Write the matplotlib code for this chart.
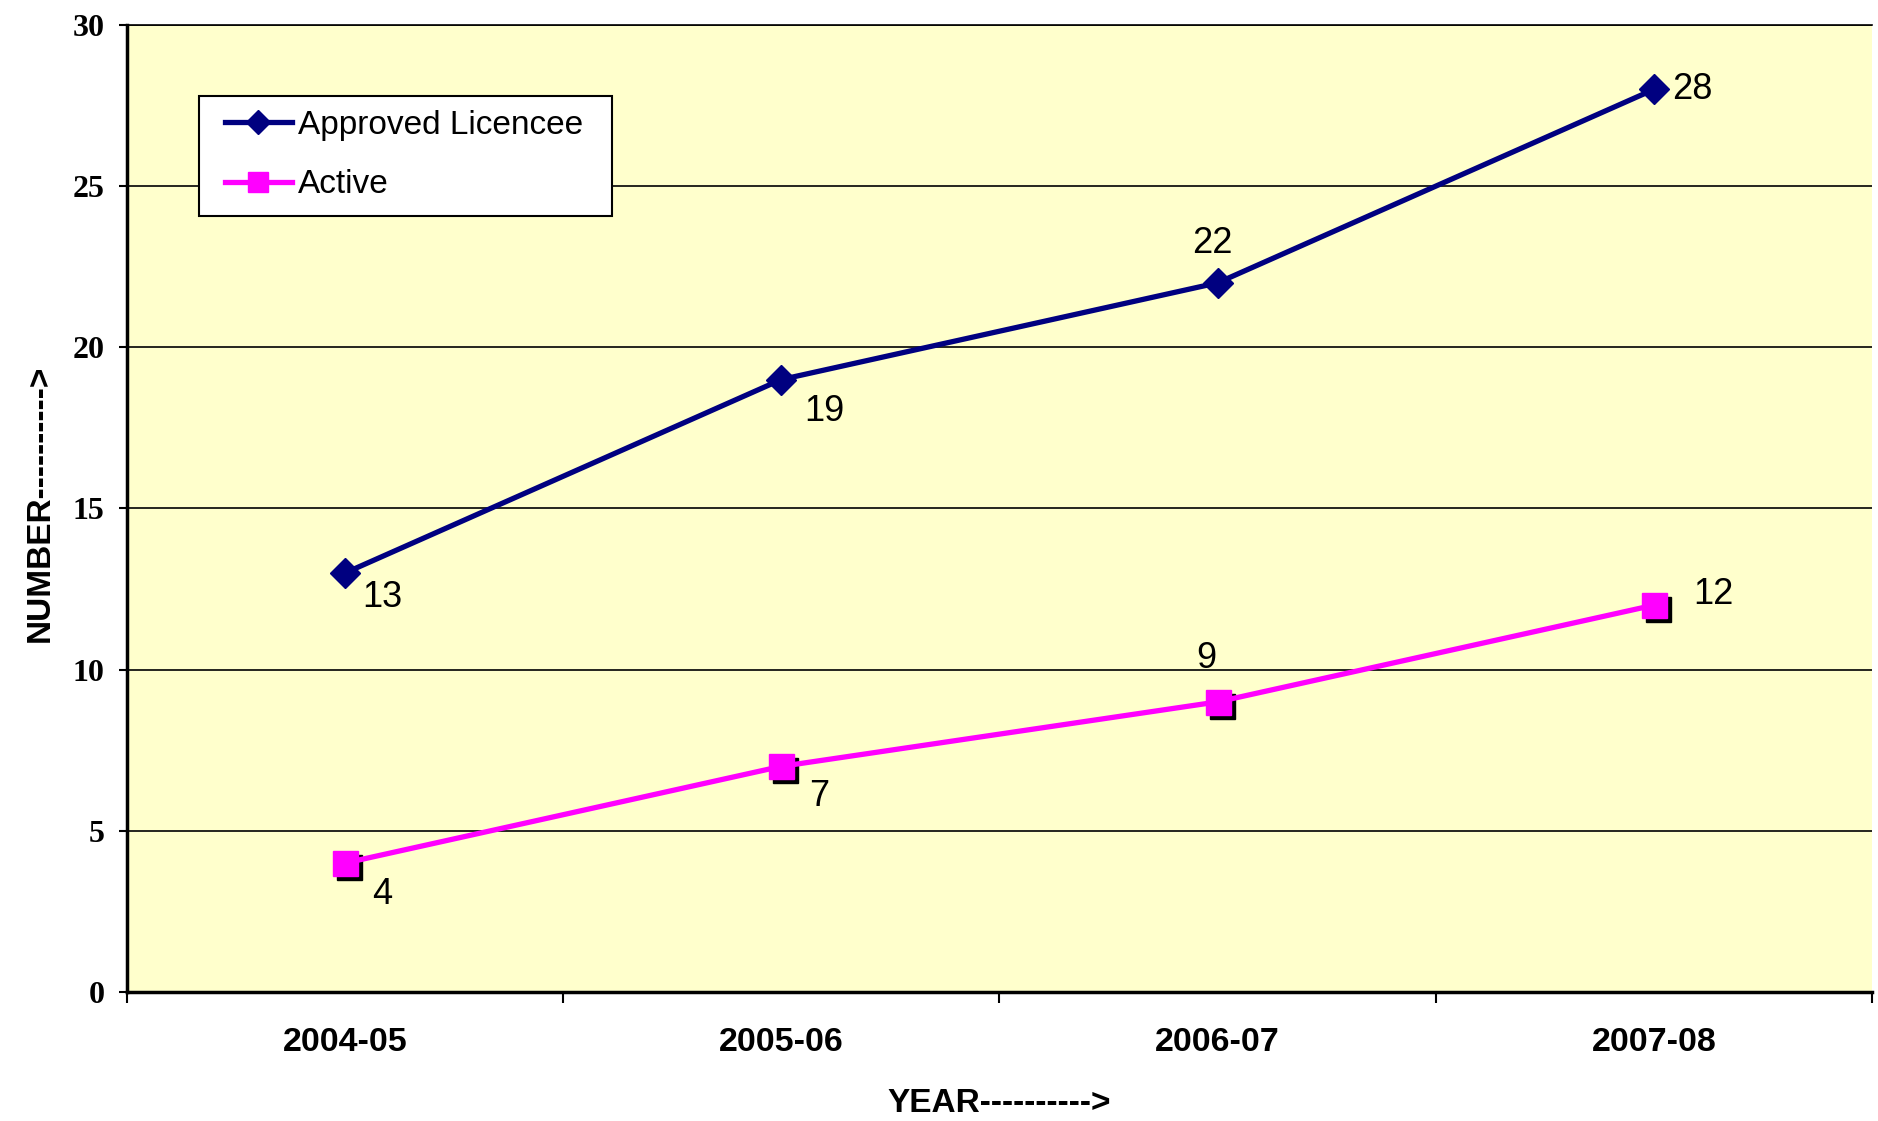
import numpy as np
import matplotlib
matplotlib.use("Agg")
import matplotlib.pyplot as plt
from matplotlib.patches import Rectangle
from matplotlib.transforms import offset_copy

# ---- data ----
years = ["2004-05", "2005-06", "2006-07", "2007-08"]
approved = [13, 19, 22, 28]
active = [4, 7, 9, 12]

# label offsets (points) for each value label
approved_offsets = [(27, -18), (31, -23), (-4, 28), (28, 0)]
active_offsets = [(27, -23), (27, -22), (-8, 31), (43, 8)]

NAVY = "#000080"
MAGENTA = "#FF00FF"
BG = "#FFFFCC"

plt.rcParams["font.family"] = ["Liberation Sans", "DejaVu Sans"]

fig = plt.figure(figsize=(18.78, 11.21), dpi=100)
ax = fig.add_axes([0.0676, 0.1151, 0.9292, 0.8626])
ax.set_facecolor(BG)

x = np.arange(len(years))

# gridlines
ax.set_ylim(0, 30)
ax.set_xlim(-0.5, len(years) - 0.5)
ax.set_yticks(range(0, 31, 5))
ax.yaxis.grid(True, color="black", linewidth=1.2)
ax.set_axisbelow(True)

# approved licencee line
ax.plot(x, approved, color=NAVY, linewidth=3.8, marker="D", markersize=15,
        label="Approved Licencee", zorder=4)

# active line, with a dark drop shadow under the square markers
shadow = offset_copy(ax.transData, fig=fig, x=4, y=-4, units="dots")
ax.plot(x, active, linestyle="none", marker="s", markersize=18,
        color="black", transform=shadow, zorder=3)
ax.plot(x, active, color=MAGENTA, linewidth=3.8, marker="s", markersize=18,
        label="Active", zorder=4)

for xi, v, off in zip(x, approved, approved_offsets):
    ax.annotate(str(v), (xi, v), xytext=off, textcoords="offset points",
                ha="center", va="center", fontsize=26, zorder=5)
for xi, v, off in zip(x, active, active_offsets):
    ax.annotate(str(v), (xi, v), xytext=off, textcoords="offset points",
                ha="center", va="center", fontsize=26, zorder=5)

# category axis: ticks between categories, labels at the centres
ax.set_xticks(np.arange(-0.5, len(years), 1.0))
ax.set_xticklabels([])
ax.set_xticks(x, minor=True)
ax.set_xticklabels(years, minor=True, fontsize=24.5, fontweight="bold")
ax.tick_params(axis="x", which="major", length=8, width=1.5, direction="out")
ax.tick_params(axis="x", which="minor", length=0, pad=25)
ax.tick_params(axis="y", length=6, width=1.5, pad=10)
for lab in ax.get_yticklabels():
    lab.set_fontfamily(["Liberation Serif", "DejaVu Serif"])
    lab.set_fontweight("bold")
    lab.set_fontsize(23)

for side in ["left", "bottom"]:
    ax.spines[side].set_linewidth(2.5)
ax.spines["right"].set_visible(False)
ax.spines["top"].set_linewidth(1.2)

ax.set_xlabel("YEAR---------->", fontsize=24, fontweight="bold")
ax.set_ylabel("NUMBER---------->", fontsize=24, fontweight="bold")
ax.xaxis.set_label_coords(0.5, -0.099)
ax.yaxis.set_label_coords(-0.041, 0.505)

# legend box drawn as a separate frame so the inner padding can be set freely
W, H = fig.get_size_inches() * fig.dpi
ax.add_patch(Rectangle((199 / W, 1 - 216 / H), 413 / W, 120 / H,
                       transform=fig.transFigure, facecolor="white",
                       edgecolor="black", linewidth=1.5, zorder=6,
                       clip_on=False))
leg = ax.legend(loc="upper left", bbox_to_anchor=(225 / W, 1 - 110 / H),
                bbox_transform=fig.transFigure, frameon=False,
                fontsize=24, borderaxespad=0, borderpad=0,
                handlelength=2.0, handletextpad=0.2, labelspacing=0.85,
                markerscale=0.8)
leg.set_zorder(7)

fig.savefig("out.png", dpi=100, facecolor="white")
